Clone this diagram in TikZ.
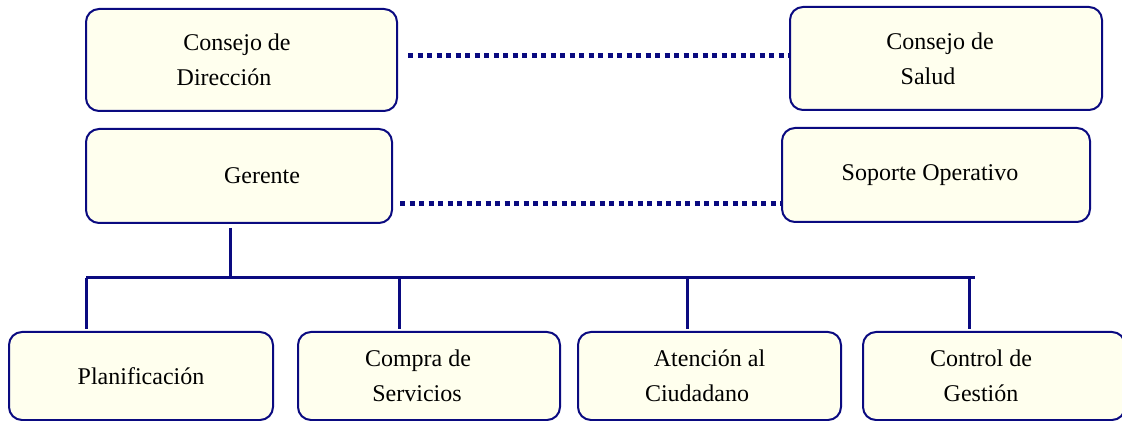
\documentclass[tikz,border=0pt]{standalone}
\usepackage{fontspec}
\setmainfont{Liberation Serif}
\usetikzlibrary{positioning}
\definecolor{orgblue}{RGB}{10,10,128}
\definecolor{boxfill}{RGB}{255,255,238}
\tikzset{
  box/.style={draw=orgblue,line width=1pt,fill=boxfill,rounded corners=6.5pt,
    align=center,inner sep=0pt,font=\fontsize{12}{17.5}\selectfont},
  dots/.style={draw=orgblue,line width=2.5pt,dash pattern=on 2.5pt off 2.25pt},
  tree/.style={draw=orgblue,line width=1.5pt}
}

\begin{document}
\begin{tikzpicture}[x=0.5pt,y=-0.5pt]
\useasboundingbox (0,0) rectangle (1122,421);
\node[box,minimum width=155.5pt,minimum height=51pt] (dir) at (241.5,60)
  {Consejo de\hspace*{4.5pt}\\Dirección\hspace*{17.5pt}};
\node[box,minimum width=156pt,minimum height=51.5pt] (salud) at (946,58.5)
  {Consejo de\hspace*{6pt}\\Salud\hspace*{18pt}};
\node[box,minimum width=153pt,minimum height=47pt] (ger) at (239,176)
  {\hspace*{23pt}Gerente};
\node[box,minimum width=154pt,minimum height=47pt] (sop) at (936,175)
  {Soporte Operativo\hspace*{6pt}};
\node[box,minimum width=132pt,minimum height=44pt] (plan) at (141,376)
  {Planificación};
\node[box,minimum width=131pt,minimum height=44pt] (compra) at (429,376)
  {Compra de\hspace*{11pt}\\Servicios\hspace*{12pt}};
\node[box,minimum width=131.5pt,minimum height=44pt] (aten) at (709.5,376)
  {Atención al\\Ciudadano\hspace*{12.5pt}};
\node[box,minimum width=131pt,minimum height=44pt] (ctrl) at (994,376)
  {Control de\hspace*{13pt}\\Gestión\hspace*{13pt}};
\draw[dots] ([xshift=5pt,yshift=2pt]dir.east) -- ([yshift=2pt]dir.east -| salud.west);
\draw[dots] ([xshift=3.5pt,yshift=-14pt]ger.east) -- ([yshift=-14pt]ger.east -| sop.west);
\coordinate (bar) at (230,278);
\coordinate (barL) at (86,278);
\coordinate (barR) at (975,278);
\draw[tree,shorten <=2pt] (ger.south -| bar) -- (bar);
\draw[tree] (barL) -- (barR);
\foreach \n/\x in {plan/86,compra/399,aten/687,ctrl/969}
  \draw[tree,shorten >=1pt] (\x,278) -- (\n.north -| \x,0);
\end{tikzpicture}
\end{document}
